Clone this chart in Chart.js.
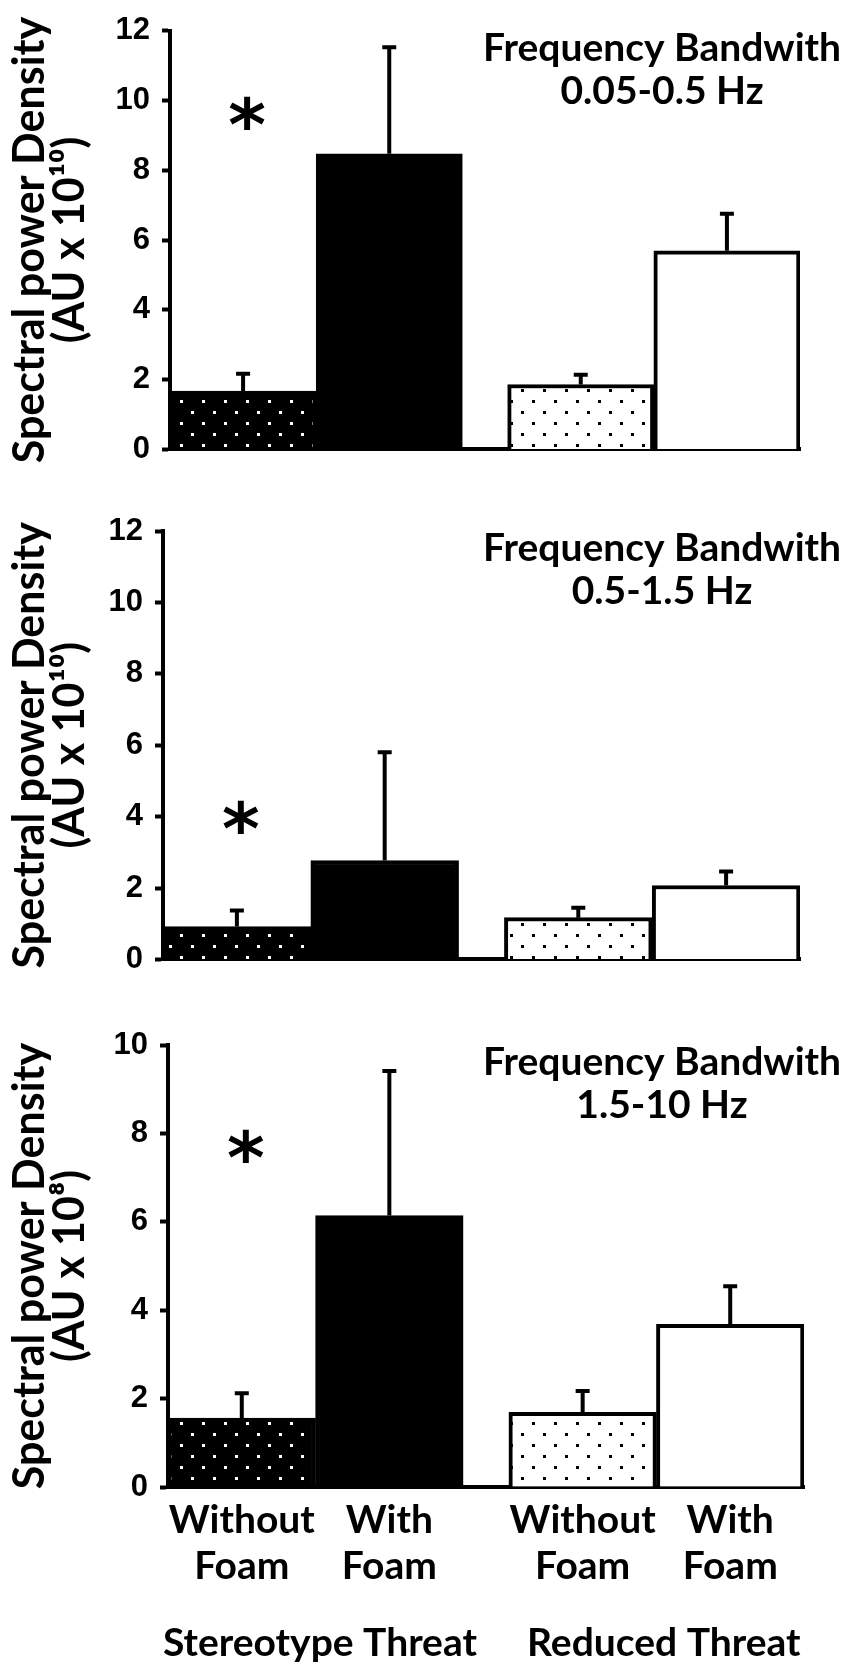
<!DOCTYPE html>
<html>
<head>
<meta charset="utf-8">
<script src="https://cdn.jsdelivr.net/npm/chart.js@4.4.1/dist/chart.umd.min.js"></script>
<style>
  html, body { margin: 0; padding: 0; background: #fff; }
  body { width: 851px; height: 1675px; position: relative; overflow: hidden; }
  .panel { position: absolute; left: 0; width: 851px; }
</style>
</head>
<body>
<div class="panel" style="top:0;height:480px"><canvas id="c1"></canvas></div>
<div class="panel" style="top:490px;height:500px"><canvas id="c2"></canvas></div>
<div class="panel" style="top:1000px;height:675px"><canvas id="c3"></canvas></div>
<script>
// categories
var conditions = [['Without', 'Foam'], ['With', 'Foam'], ['Without', 'Foam'], ['With', 'Foam']];
var groups = ['Stereotype Threat', 'Reduced Threat'];
var bands = [['Frequency Bandwith', '0.05-0.5 Hz'], ['Frequency Bandwith', '0.5-1.5 Hz'], ['Frequency Bandwith', '1.5-10 Hz']];
var units = ['(AU x 10\u00b9\u2070)', '(AU x 10\u00b9\u2070)', '(AU x 10\u2078)'];
var yMax = [12, 12, 10];

// means and error (upper whisker) per band
var lowBand = [1.67, 8.47, 1.86, 5.69];
var lowBandErr = [0.50, 3.05, 0.28, 1.06];
var midBand = [0.92, 2.77, 1.17, 2.07];
var midBandErr = [0.45, 3.03, 0.28, 0.39];
var highBand = [1.56, 6.14, 1.69, 3.68];
var highBandErr = [0.56, 3.27, 0.48, 0.86];
// height of the significance star
var starAt = [9.75, 4.1, 7.8];

// slots on the x scale (pairs touch, small gap between groups)
var barX = [0, 1, 2.31, 3.31];
var groupX = [0.53, 2.86];

var means = [lowBand, midBand, highBand];
var errs = [lowBandErr, midBandErr, highBandErr];

function dots(bg, fg) {
    var c = document.createElement('canvas');
    c.width = 22; c.height = 22;
    var g = c.getContext('2d');
    g.fillStyle = bg;
    g.fillRect(0, 0, 22, 22);
    g.fillStyle = fg;
    g.fillRect(4, 4, 3, 3);
    g.fillRect(15, 15, 3, 3);
    return g.createPattern(c, 'repeat');
}

// error whiskers, star and band caption
var extras = {
    id: 'extras',
    afterDatasetsDraw: function (chart, args, opts) {
        var ctx = chart.ctx, y = chart.scales.y, x = chart.scales.x;
        var ds = chart.data.datasets[0];
        var meta = chart.getDatasetMeta(0);
        ctx.save();
        ctx.strokeStyle = '#000';
        ctx.lineWidth = 4;
        meta.data.forEach(function (bar, i) {
            var top = y.getPixelForValue(ds.data[i].y + ds.err[i]);
            ctx.beginPath();
            ctx.moveTo(bar.x, bar.y);
            ctx.lineTo(bar.x, top);
            ctx.moveTo(bar.x - 7, top);
            ctx.lineTo(bar.x + 7, top);
            ctx.stroke();
        });
        ctx.fillStyle = '#000';
        ctx.textAlign = 'center';
        ctx.textBaseline = 'alphabetic';
        ctx.font = 'bold 72px "DejaVu Sans"';
        ctx.fillText('*', x.getPixelForValue(barX[0]) + 4, y.getPixelForValue(opts.star) + 41);
        ctx.font = 'bold 39px Lato';
        var a = chart.chartArea;
        ctx.fillText(opts.band[0], 662, a.top + 30);
        ctx.fillText(opts.band[1], 662, a.top + 73);
        ctx.restore();
    }
};

var lefts = [170, 163, 168];
var tops = [23, 41, 45];
var rights = [800, 800, 804];
var xHeights = [27, 30, 110];

function build() {
    var fills = [dots('#000', '#fff'), '#000', dots('#fff', '#000'), '#fff'];
    for (var k = 0; k < 3; k++) {
        (function (k) {
            var scales = {
                x: {
                    type: 'linear',
                    offset: false,
                    bounds: 'data',
                    min: -0.5,
                    max: 3.81,
                    weight: 0,
                    afterBuildTicks: function (s) { s.ticks = barX.map(function (v) { return { value: v }; }); },
                    afterFit: function (s) { s.height = xHeights[k]; },
                    ticks: {
                        display: k === 2,
                        autoSkip: false,
                        maxRotation: 0,
                        color: '#000',
                        padding: 10,
                        font: { family: 'Lato', size: 39, weight: 'bold', lineHeight: 1.18 },
                        callback: function (v, i) { return conditions[i]; }
                    },
                    grid: { display: false, drawTicks: false },
                    border: { display: true, color: '#000', width: 4 }
                },
                y: {
                    min: 0,
                    max: yMax[k],
                    afterFit: function (s) { s.width = lefts[k]; },
                    ticks: {
                        stepSize: 2,
                        color: '#000',
                        padding: 12,
                        font: { family: '"Liberation Sans", Arial', size: 31, weight: 'bold' }
                    },
                    grid: { drawOnChartArea: false, drawTicks: true, tickLength: 8, tickWidth: 4, tickColor: '#000', color: '#000' },
                    border: { display: true, color: '#000', width: 4 },
                    title: {
                        display: true,
                        text: ['Spectral power Density', units[k]],
                        color: '#000',
                        padding: { top: 10, bottom: 0 },
                        font: { family: 'Lato', size: 43, weight: 'bold', lineHeight: 0.93 }
                    }
                }
            };
            if (k === 2) {
                scales.xg = {
                    type: 'linear',
                    position: 'bottom',
                    offset: false,
                    bounds: 'data',
                    min: -0.5,
                    max: 3.81,
                    weight: 1,
                    afterBuildTicks: function (s) { s.ticks = groupX.map(function (v) { return { value: v }; }); },
                    afterFit: function (s) { s.height = 675 - 487 - xHeights[k]; },
                    ticks: {
                        autoSkip: false,
                        maxRotation: 0,
                        color: '#000',
                        padding: 23,
                        font: { family: 'Lato', size: 39, weight: 'bold' },
                        callback: function (v, i) { return groups[i]; }
                    },
                    grid: { display: false, drawTicks: false },
                    border: { display: false }
                };
            }
            new Chart(document.getElementById('c' + (k + 1)), {
                type: 'bar',
                data: {
                    datasets: [{
                        label: bands[k].join(' '),
                        data: barX.map(function (v, i) { return { x: v, y: means[k][i] }; }),
                        err: errs[k],
                        backgroundColor: fills,
                        borderColor: '#000',
                        borderWidth: 4,
                        barPercentage: 1,
                        categoryPercentage: 1
                    }]
                },
                options: {
                    responsive: true,
                    maintainAspectRatio: false,
                    animation: false,
                    layout: { padding: { top: tops[k], right: 851 - rights[k], left: 0, bottom: 0 } },
                    plugins: {
                        legend: { display: false },
                        tooltip: { enabled: false },
                        extras: { star: starAt[k], band: bands[k] }
                    },
                    scales: scales
                },
                plugins: [extras]
            });
        })(k);
    }
}

document.fonts.load('bold 39px Lato').then(build, build);
</script>
</body>
</html>
